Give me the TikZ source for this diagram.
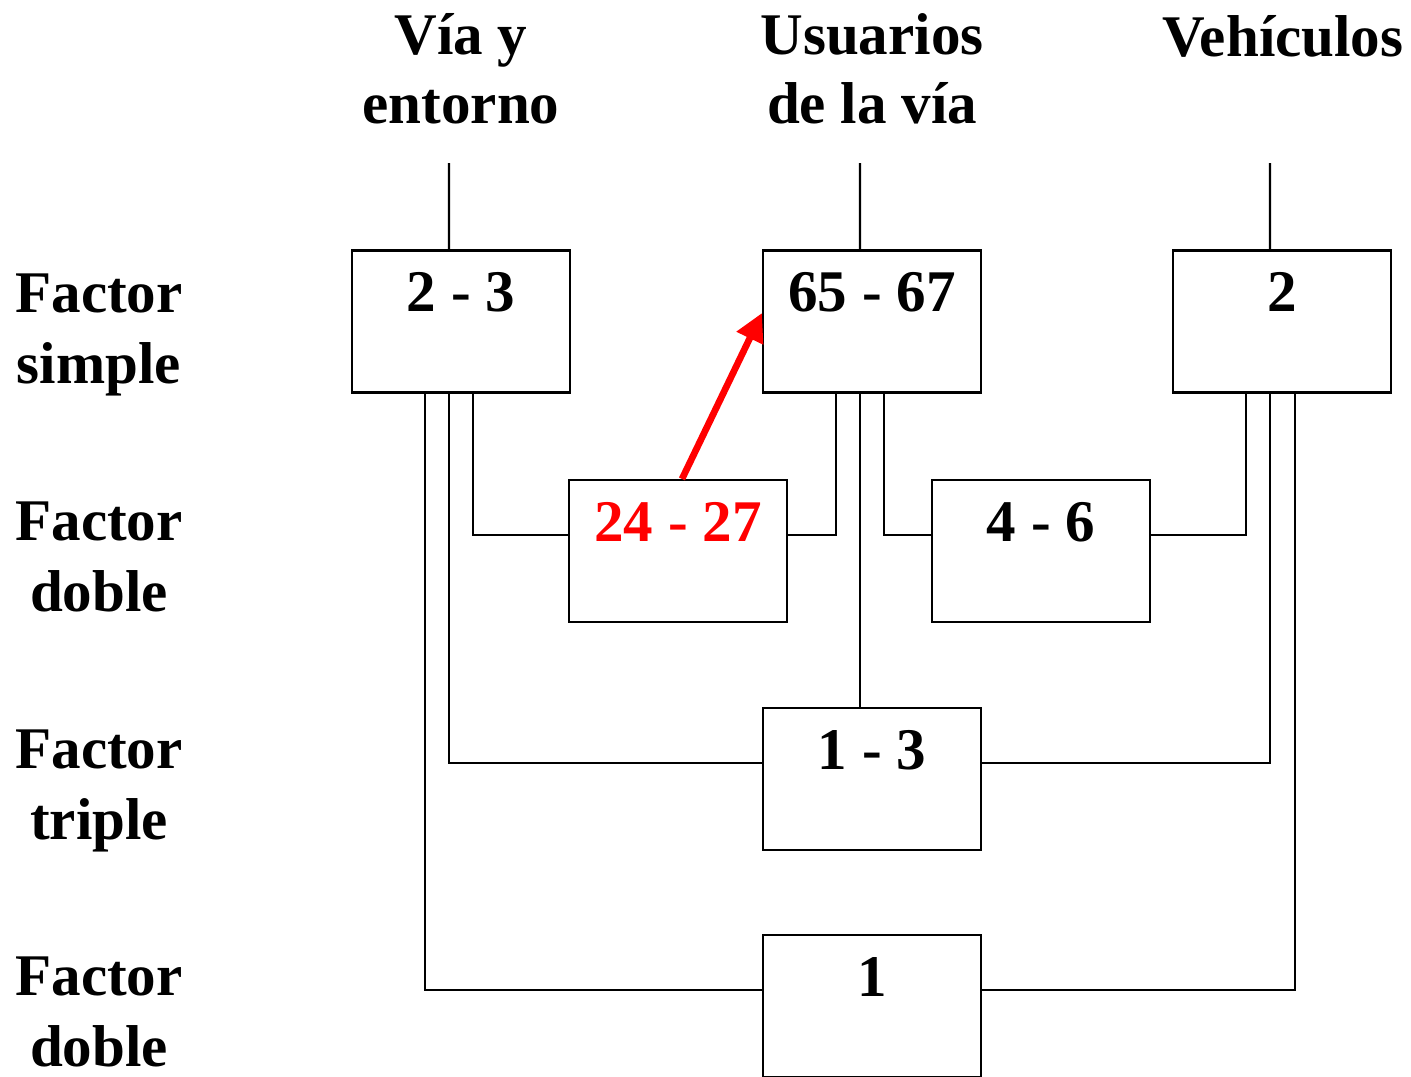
\documentclass[tikz,border=0pt]{standalone}
\usepackage{fontspec}
\setmainfont{Liberation Serif}
\usetikzlibrary{arrows.meta}
\begin{document}
\begin{tikzpicture}[line width=0.6pt,
	font=\fontsize{16.8}{20}\selectfont\bfseries,
	cell/.style={rectangle, draw, minimum width=2.18cm, minimum height=1.42cm, inner sep=0pt, text height=0.61cm, text depth=0.81cm},
	rowlab/.style={align=center, font=\fontsize{16.8}{20.3}\selectfont\bfseries},
	collab/.style={align=center, font=\fontsize{16.8}{19.6}\selectfont\bfseries}]
	\useasboundingbox (0,0) rectangle (14.11,-10.76);
	\node (hA) at ( 4.61, -0.69)	[collab]	{V\'ia y\\entorno};
	\node (hB) at ( 8.72, -0.69)	[collab]	{Usuarios\\de la v\'ia};
	\node (hC) at (12.83, -0.36)	[collab]	{Veh\'iculos};
	\node (r1) at ( 0.99, -3.35)	[rowlab]	{Factor\\simple};
	\node (r2) at ( 0.99, -5.57)	[rowlab]	{Factor\\doble};
	\node (r3) at ( 0.99, -7.91)	[rowlab]	{Factor\\triple};
	\node (r4) at ( 0.99,-10.12)	[rowlab]	{Factor\\doble};
	\node (A) at ( 4.61, -3.215)	[cell]	{2 - 3};
	\node (B) at ( 8.72, -3.215)	[cell]	{65 - 67};
	\node (C) at (12.82, -3.215)	[cell]	{2};
	\node (D) at ( 6.78, -5.51)	[cell, text=red]	{24 - 27};
	\node (E) at (10.41, -5.51)	[cell]	{4 - 6};
	\node (F) at ( 8.72, -7.79)	[cell]	{1 - 3};
	\node (G) at ( 8.72,-10.06)	[cell]	{1};
	\coordinate (tA) at ( 4.49, -1.63);
	\coordinate (tB) at ( 8.60, -1.63);
	\coordinate (tC) at (12.70, -1.63);
	\draw (tA) -- ([xshift=-1.2mm]A.north);
	\draw (tB) -- ([xshift=-1.2mm]B.north);
	\draw (tC) -- ([xshift=-1.2mm]C.north);
	\draw ([xshift=1.2mm]A.south) |- ([yshift=1.6mm]D.west);
	\draw ([xshift=-3.6mm]B.south) |- ([yshift=1.6mm]D.east);
	\draw ([xshift=1.2mm]B.south) |- ([yshift=1.6mm]E.west);
	\draw ([xshift=-3.6mm]C.south) |- ([yshift=1.6mm]E.east);
	\draw ([xshift=-1.2mm]B.south) -- ([xshift=-1.2mm]F.north);
	\draw ([xshift=-1.2mm]A.south) |- ([yshift=1.6mm]F.west);
	\draw ([xshift=-1.2mm]C.south) |- ([yshift=1.6mm]F.east);
	\draw ([xshift=-3.6mm]A.south) |- ([yshift=1.6mm]G.west);
	\draw ([xshift=1.3mm]C.south) |- ([yshift=1.6mm]G.east);
	\draw [red, line width=1.9pt, -{Triangle[length=2.8mm, width=2.8mm]}] ([xshift=0.4mm]D.north) -- ([yshift=0.85mm]B.west);
\end{tikzpicture}
\end{document}
